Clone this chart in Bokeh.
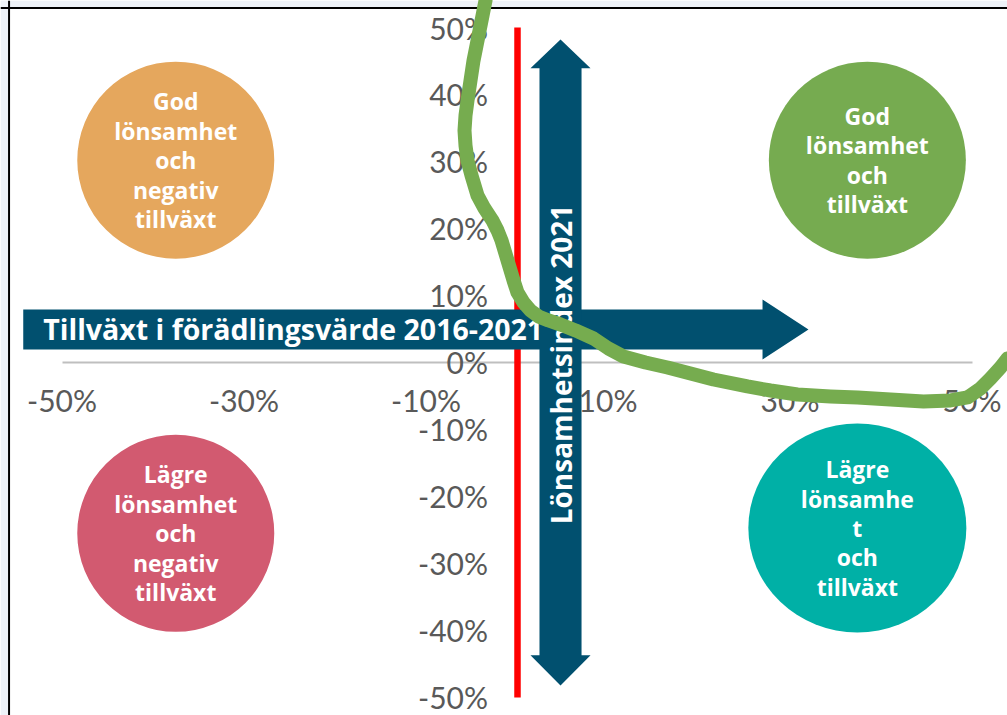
from bokeh.plotting import figure
from bokeh.models import FixedTicker, Span, BoxAnnotation
from bokeh.core.properties import value
from bokeh.embed import file_html
from bokeh.resources import INLINE

# ---- data ----
x_ticks = [-50, -30, -10, 10, 30, 50]
y_ticks = [-50, -40, -30, -20, -10, 0, 10, 20, 30, 40, 50]
x_tick_labels = ["-50%", "-30%", "-10%", "10%", "30%", "50%"]
y_tick_labels = ["-50%", "-40%", "-30%", "-20%", "-10%", "0%", "10%", "20%", "30%", "40%", "50%"]

quad_text = [
    "God\nlönsamhet\noch\nnegativ\ntillväxt",
    "God\nlönsamhet\noch\ntillväxt",
    "Lägre\nlönsamhet\noch\nnegativ\ntillväxt",
    "Lägre\nlönsamhe\nt\noch\ntillväxt",
]
quad_x = [-37.5, 38.5, -37.5, 37.4]
quad_y = [30.2, 30.2, -25.5, -24.7]
quad_colors = ["#e5a75d", "#76ab50", "#d25a70", "#00b0a6"]

curve_x = [-3.46, -3.79, -4.12, -4.45, -4.78, -5.11, -5.44, -5.66, -5.77, -5.66, -5.44, -5.00,
           -4.34, -3.57, -2.69, -2.14, -1.70, -1.37, -1.04, -0.71, -0.38, 0.05, 0.71, 1.48,
           2.36, 3.46, 4.78, 6.43, 8.41, 10.05, 11.70, 14.12, 16.54, 19.07, 21.59, 25.33,
           27.86, 30.82, 34.45, 37.42, 41.04, 44.67, 47.64, 49.51, 50.93, 52.03, 53.13, 53.90]
curve_y = [54.03, 51.79, 49.55, 47.31, 45.07, 42.09, 39.10, 36.87, 34.63, 32.39, 30.15, 27.91,
           24.93, 22.99, 21.19, 19.70, 18.21, 16.72, 15.22, 13.73, 12.24, 10.45, 8.96, 7.76,
           6.87, 6.27, 5.67, 4.78, 3.58, 2.09, 0.90, 0.00, -0.75, -1.64, -2.54, -3.58,
           -4.18, -4.78, -5.07, -5.22, -5.52, -5.82, -5.67, -5.22, -3.88, -2.39, -0.75, 0.60]

x_axis_title = "Tillväxt i förädlingsvärde 2016-2021"
y_axis_title = "Lönsamhetsindex 2021"

# ---- figure ----
X0, X1 = -56.76, 53.90
Y0, Y1 = -52.69, 54.03
p = figure(width=1007, height=715, x_range=(X0, X1), y_range=(Y0, Y1),
           output_backend="svg", toolbar_location=None, min_border=0)
p.outline_line_color = None
p.grid.visible = False
p.background_fill_color = "white"
p.border_fill_color = "white"

for ax, ticks, labels in ((p.xaxis, x_ticks, x_tick_labels), (p.yaxis, y_ticks, y_tick_labels)):
    ax.fixed_location = 0
    ax.bounds = (-50, 50)
    ax.ticker = FixedTicker(ticks=ticks)
    ax.major_label_overrides = {t: l for t, l in zip(ticks, labels)}
    ax.major_tick_line_color = None
    ax.minor_tick_line_color = None
    ax.major_label_text_font = "Lato"
    ax.major_label_text_font_size = "30px"
    ax.major_label_text_color = "#595959"

p.xaxis.axis_line_color = "#bfbfbf"
p.xaxis.axis_line_width = 2
p.xaxis.major_label_standoff = 14
p.yaxis.axis_line_color = "#ff0000"
p.yaxis.axis_line_width = 6.5
p.yaxis.major_label_standoff = 23

# outside strip + border (left & top)
bx, by = -55.82, 52.91
p.add_layout(BoxAnnotation(right=bx, fill_color="#eef2f8", fill_alpha=1, line_color=None))
p.add_layout(BoxAnnotation(bottom=by, fill_color="#eef2f8", fill_alpha=1, line_color=None))
p.add_layout(Span(location=bx, dimension="height", line_color="black", line_width=2))
p.add_layout(Span(location=by, dimension="width", line_color="black", line_width=2))

# quadrant circles
p.ellipse(x=quad_x[:3], y=quad_y[:3], width=197, height=197, width_units="screen",
          height_units="screen", fill_color=quad_colors[:3], line_color=None)
p.ellipse(x=quad_x[3:], y=quad_y[3:], width=218, height=209, width_units="screen",
          height_units="screen", fill_color=quad_colors[3:], line_color=None)
p.text(x=quad_x, y=quad_y, text=quad_text, text_color="white", text_font=value("Open Sans"),
       text_font_style="bold", text_font_size="23px", text_align="center",
       text_baseline="middle", text_line_height=0.92)

# arrows
arrow_col = "#01506f"
h_arrow = p.patch(x=[-54.26, 26.98, 26.98, 32.03, 26.98, 26.98, -54.26],
                  y=[7.91, 7.91, 9.40, 4.93, 0.45, 1.94, 1.94],
                  fill_color=arrow_col, line_color=None)
v_arrow = p.patch(x=[2.47, 2.47, 1.48, 4.78, 8.08, 7.09, 7.09, 8.08, 4.78, 1.48],
                  y=[-43.7, 43.9, 43.9, 48.2, 43.9, 43.9, -43.7, -43.7, -48.2, -43.7],
                  fill_color=arrow_col, line_color=None)
h_text = p.text(x=[-52.06], y=[4.93], text=[x_axis_title], text_color="white",
                text_font=value("Open Sans"), text_font_style="bold", text_font_size="28.5px",
                text_align="left", text_baseline="middle")
v_text = p.text(x=[4.78], y=[-0.3], text=[y_axis_title], angle=1.5708, text_color="white",
                text_font=value("Open Sans"), text_font_style="bold", text_font_size="28px",
                text_align="center", text_baseline="middle")
for r in (h_arrow, v_arrow, h_text, v_text):
    r.level = "annotation"

# freehand green curve
curve = p.line(x=curve_x, y=curve_y, line_color="#76ac4f", line_width=14,
               line_join="round", line_cap="round")
curve.level = "overlay"

open("out.html", "w").write(file_html(p, INLINE))
